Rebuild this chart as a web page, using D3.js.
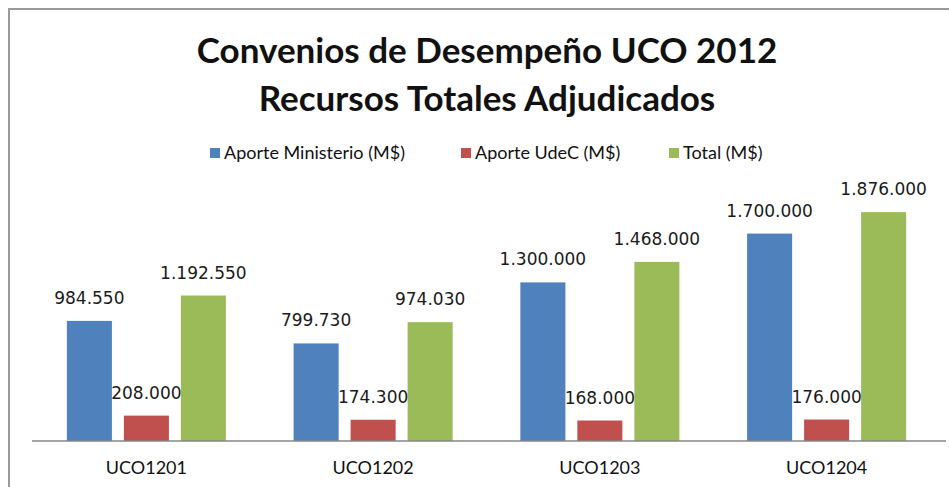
<!DOCTYPE html>
<html>
<head>
<meta charset="utf-8">
<script src="https://cdn.jsdelivr.net/npm/d3@7"></script>
<style>
  body { margin: 0; background: #fff; }
  svg { display: block; }
</style>
</head>
<body>
<div id="chart"></div>
<script>
// chart data
var categories = ["UCO1201", "UCO1202", "UCO1203", "UCO1204"];
var seriesNames = ["Aporte Ministerio (M$)", "Aporte UdeC (M$)", "Total (M$)"];
var aporteMinisterio = [984550, 799730, 1300000, 1700000];
var aporteUdeC = [208000, 174300, 168000, 176000];
var total = [1192550, 974030, 1468000, 1876000];
var titleLines = ["Convenios de Desempeño UCO 2012", "Recursos Totales  Adjudicados"];

var seriesValues = [aporteMinisterio, aporteUdeC, total];
var colors = ["#4F81BD", "#C0504D", "#9BBB59"];

var width = 949, height = 487;

var svg = d3.select("#chart").append("svg")
    .attr("width", width)
    .attr("height", height);

// outer frame of the chart (runs off the right/bottom edge)
svg.append("rect")
    .attr("x", 9).attr("y", 9)
    .attr("width", 960).attr("height", 500)
    .attr("fill", "#fff")
    .attr("stroke", "#9a9a9a")
    .attr("stroke-width", 2);

var x0 = d3.scaleBand().domain(categories).range([33, 940]);
var x1 = d3.scaleBand().domain(seriesNames)
    .range([0, x0.bandwidth()])
    .paddingInner(0.21).paddingOuter(0.594);
var y = d3.scaleLinear().domain([0, 2000000]).range([441, 197]);

// title
svg.append("g").selectAll("text")
    .data(titleLines)
    .enter().append("text")
    .attr("x", 487)
    .attr("y", function (d, i) { return 63 + i * 48; })
    .attr("text-anchor", "middle")
    .style("font-family", "Lato, 'Open Sans', sans-serif")
    .style("font-weight", "bold")
    .style("font-size", "35px")
    .style("fill", "#111")
    .text(function (d) { return d; });

// legend
var legendX = [210, 461, 669];
var legend = svg.append("g").selectAll("g")
    .data(seriesNames)
    .enter().append("g")
    .attr("transform", function (d, i) { return "translate(" + legendX[i] + ",148)"; });

legend.append("rect")
    .attr("width", 10).attr("height", 10)
    .attr("fill", function (d, i) { return colors[i]; });

legend.append("text")
    .attr("x", 14).attr("y", 11)
    .style("font-family", "Lato, sans-serif")
    .style("font-size", "18px")
    .style("fill", "#111")
    .text(function (d) { return d; });

// bars
var rows = categories.map(function (c, ci) {
    return seriesNames.map(function (s, si) {
        return { cat: c, series: s, si: si, value: seriesValues[si][ci] };
    });
});

var groups = svg.append("g").selectAll("g")
    .data(rows)
    .enter().append("g")
    .attr("transform", function (d, i) { return "translate(" + x0(categories[i]) + ",0)"; });

groups.selectAll("rect")
    .data(function (d) { return d; })
    .enter().append("rect")
    .attr("x", function (d) { return x1(d.series); })
    .attr("y", function (d) { return y(d.value); })
    .attr("width", x1.bandwidth())
    .attr("height", function (d) { return y(0) - y(d.value); })
    .attr("fill", function (d) { return colors[d.si]; });

var fmt = d3.formatLocale({ decimal: ",", thousands: ".", grouping: [3], currency: ["$", ""] }).format(",d");

groups.selectAll("text")
    .data(function (d) { return d; })
    .enter().append("text")
    .attr("x", function (d) { return x1(d.series) + x1.bandwidth() / 2; })
    .attr("y", function (d) { return y(d.value) - 17; })
    .attr("text-anchor", "middle")
    .style("font-family", "'DejaVu Sans', sans-serif")
    .style("font-size", "17px")
    .style("fill", "#1a1a1a")
    .text(function (d) { return fmt(d.value); });

// category axis
svg.append("line")
    .attr("x1", 32).attr("x2", 946)
    .attr("y1", y(0)).attr("y2", y(0))
    .attr("stroke", "#868686")
    .attr("stroke-width", 1.5);

var xAxis = d3.axisBottom(x0).tickSize(0).tickPadding(0);
var axisG = svg.append("g")
    .attr("transform", "translate(0," + (y(0) + 20) + ")")
    .call(xAxis);
axisG.select(".domain").remove();
axisG.selectAll("text")
    .style("font-family", "Lato, sans-serif")
    .style("font-size", "18px")
    .style("fill", "#111");
</script>
</body>
</html>
